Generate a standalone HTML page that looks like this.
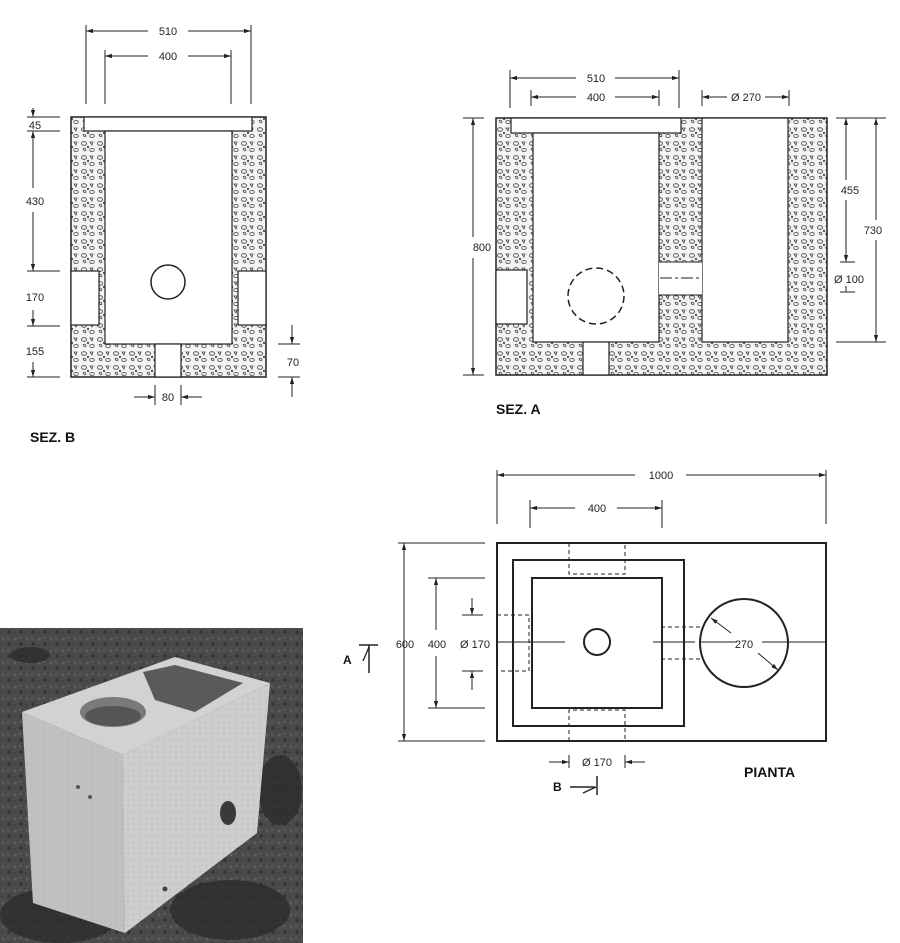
<!DOCTYPE html>
<html><head><meta charset="utf-8"><style>
html,body{margin:0;padding:0;background:#fff;}
svg{display:block;font-family:"Liberation Sans",sans-serif;}
</style></head><body>
<svg width="900" height="943" viewBox="0 0 900 943" xmlns="http://www.w3.org/2000/svg">
<defs>
<pattern id="agg" width="16" height="14" patternUnits="userSpaceOnUse">
<rect width="16" height="14" fill="#f4f4f4"/>
<g fill="none" stroke="#444" stroke-width="0.8">
<ellipse cx="4" cy="3.5" rx="2.6" ry="1.8"/>
<path d="M10 2 l3 0 l-1 3 z"/>
<ellipse cx="12" cy="10" rx="2.2" ry="1.6"/>
<path d="M3 9 q2 -2 3 1 q-1 2 -3 -1z"/>
<circle cx="8" cy="7" r="0.8"/>
</g>
</pattern>
<pattern id="grit" width="12" height="12" patternUnits="userSpaceOnUse">
<rect width="12" height="12" fill="#4a4a4a"/>
<circle cx="3" cy="3" r="1.5" fill="#5e5e5e"/><circle cx="9" cy="8" r="1.8" fill="#333"/><circle cx="8" cy="2" r="1" fill="#666"/><circle cx="2" cy="9" r="1" fill="#3a3a3a"/>
</pattern>
<pattern id="conc" width="6" height="6" patternUnits="userSpaceOnUse">
<rect width="6" height="6" fill="#cdcdcd"/><circle cx="2" cy="2" r="0.7" fill="#b8b8b8"/><circle cx="5" cy="4" r="0.6" fill="#dadada"/>
</pattern>
<marker id="ar" viewBox="0 0 10 10" refX="10" refY="5" markerWidth="7" markerHeight="7" orient="auto-start-reverse"><path d="M0 2 L10 5 L0 8 z" fill="#222"/></marker>
</defs>
<g stroke="#222" fill="none" stroke-width="1">
<!-- SEZ B -->
<rect x="71" y="117" width="195" height="260" fill="url(#agg)" stroke-width="1.5"/>
<rect x="84" y="117" width="168" height="14" fill="#fff" stroke-width="1.2"/>
<rect x="105" y="131" width="127" height="213" fill="#fff" stroke-width="1.2"/>
<rect x="71" y="271" width="28" height="54" fill="#fff" stroke-width="1.2"/>
<rect x="238" y="271" width="28" height="54" fill="#fff" stroke-width="1.2"/>
<rect x="155" y="344" width="26" height="33" fill="#fff" stroke-width="1.2"/>
<circle cx="168" cy="282" r="17" stroke-width="1.5"/>
<line x1="86" y1="25" x2="86" y2="104"/><line x1="251" y1="25" x2="251" y2="104"/>
<line x1="105" y1="50" x2="105" y2="104"/><line x1="231" y1="50" x2="231" y2="104"/>
<line x1="86" y1="31" x2="148" y2="31" marker-start="url(#ar)"/><line x1="188" y1="31" x2="251" y2="31" marker-end="url(#ar)"/>
<line x1="105" y1="56" x2="148" y2="56" marker-start="url(#ar)"/><line x1="188" y1="56" x2="231" y2="56" marker-end="url(#ar)"/>
<line x1="33" y1="108" x2="33" y2="117" marker-end="url(#ar)"/>
<line x1="33" y1="131" x2="33" y2="188" marker-start="url(#ar)"/><line x1="33" y1="212" x2="33" y2="271" marker-end="url(#ar)"/>
<line x1="33" y1="310" x2="33" y2="326" marker-end="url(#ar)"/>
<line x1="33" y1="362" x2="33" y2="377" marker-end="url(#ar)"/>
<line x1="27" y1="117" x2="60" y2="117"/><line x1="27" y1="131" x2="60" y2="131"/><line x1="27" y1="271" x2="60" y2="271"/><line x1="27" y1="326" x2="60" y2="326"/><line x1="27" y1="377" x2="60" y2="377"/>
<line x1="278" y1="344" x2="300" y2="344"/><line x1="278" y1="377" x2="300" y2="377"/>
<line x1="292" y1="325" x2="292" y2="344" marker-end="url(#ar)"/><line x1="292" y1="397" x2="292" y2="377" marker-end="url(#ar)"/>
<line x1="155" y1="385" x2="155" y2="405"/><line x1="181" y1="385" x2="181" y2="405"/>
<line x1="134" y1="397" x2="155" y2="397" marker-end="url(#ar)"/><line x1="202" y1="397" x2="181" y2="397" marker-end="url(#ar)"/>

<!-- SEZ A -->
<rect x="496" y="118" width="331" height="257" fill="url(#agg)" stroke-width="1.5"/>
<rect x="511" y="118" width="170" height="15" fill="#fff" stroke-width="1.2"/>
<rect x="533" y="133" width="126" height="209" fill="#fff" stroke-width="1.2"/>
<rect x="496" y="270" width="31" height="54" fill="#fff" stroke-width="1.2"/>
<rect x="583" y="342" width="26" height="33" fill="#fff" stroke-width="1.2"/>
<rect x="702" y="118" width="86" height="224" fill="#fff" stroke-width="1.2"/>
<rect x="659" y="262" width="43" height="33" fill="#fff" stroke="none"/>
<line x1="659" y1="262" x2="702" y2="262"/><line x1="659" y1="295" x2="702" y2="295"/>
<line x1="660" y1="278" x2="701" y2="278" stroke-dasharray="12 3 3 3"/>
<circle cx="596" cy="296" r="28" stroke-width="1.5" stroke-dasharray="7 4"/>
<line x1="510" y1="70" x2="510" y2="108"/><line x1="679" y1="70" x2="679" y2="108"/>
<line x1="531" y1="90" x2="531" y2="106"/><line x1="659" y1="90" x2="659" y2="106"/>
<line x1="702" y1="90" x2="702" y2="106"/><line x1="789" y1="90" x2="789" y2="106"/>
<line x1="510" y1="78" x2="576" y2="78" marker-start="url(#ar)"/><line x1="615" y1="78" x2="679" y2="78" marker-end="url(#ar)"/>
<line x1="531" y1="97" x2="576" y2="97" marker-start="url(#ar)"/><line x1="615" y1="97" x2="659" y2="97" marker-end="url(#ar)"/>
<line x1="702" y1="97" x2="727" y2="97" marker-start="url(#ar)"/><line x1="765" y1="97" x2="789" y2="97" marker-end="url(#ar)"/>
<line x1="463" y1="118" x2="484" y2="118"/><line x1="463" y1="375" x2="484" y2="375"/>
<line x1="473" y1="118" x2="473" y2="237" marker-start="url(#ar)"/><line x1="473" y1="258" x2="473" y2="375" marker-end="url(#ar)"/>
<line x1="836" y1="118" x2="886" y2="118"/><line x1="836" y1="342" x2="886" y2="342"/>
<line x1="846" y1="118" x2="846" y2="180" marker-start="url(#ar)"/><line x1="846" y1="200" x2="846" y2="262" marker-end="url(#ar)"/>
<line x1="840" y1="262" x2="855" y2="262"/><line x1="840" y1="292" x2="855" y2="292"/>
<line x1="846" y1="286" x2="846" y2="292"/>
<line x1="876" y1="118" x2="876" y2="220" marker-start="url(#ar)"/><line x1="876" y1="240" x2="876" y2="342" marker-end="url(#ar)"/>

<!-- PIANTA -->
<rect x="497" y="543" width="329" height="198" stroke-width="2"/>
<rect x="513" y="560" width="171" height="166" stroke-width="2"/>
<rect x="532" y="578" width="130" height="130" stroke-width="2"/>
<circle cx="597" cy="642" r="13" stroke-width="2"/>
<circle cx="744" cy="643" r="44" stroke-width="2"/>
<g stroke-dasharray="4 3">
<path d="M569 543 V574 H625 V543"/>
<path d="M569 741 V710 H625 V741"/>
<path d="M497 615 H529 V671 H497"/>
<path d="M661 627 H703 M661 659 H703"/>
</g>
<line x1="497" y1="642" x2="565" y2="642"/><line x1="653" y1="642" x2="695" y2="642"/>
<line x1="700" y1="642" x2="737" y2="642"/><line x1="762" y1="642" x2="826" y2="642"/>
<line x1="711" y1="618" x2="731" y2="633" marker-start="url(#ar)"/><line x1="758" y1="653" x2="778" y2="670" marker-end="url(#ar)"/>
<line x1="497" y1="470" x2="497" y2="524"/><line x1="826" y1="470" x2="826" y2="524"/>
<line x1="530" y1="500" x2="530" y2="528"/><line x1="662" y1="500" x2="662" y2="528"/>
<line x1="497" y1="475" x2="635" y2="475" marker-start="url(#ar)"/><line x1="686" y1="475" x2="826" y2="475" marker-end="url(#ar)"/>
<line x1="530" y1="508" x2="575" y2="508" marker-start="url(#ar)"/><line x1="617" y1="508" x2="662" y2="508" marker-end="url(#ar)"/>
<line x1="398" y1="543" x2="485" y2="543"/><line x1="398" y1="741" x2="485" y2="741"/>
<line x1="404" y1="543" x2="404" y2="741" marker-start="url(#ar)" marker-end="url(#ar)"/>
<line x1="428" y1="578" x2="485" y2="578"/><line x1="428" y1="708" x2="485" y2="708"/>
<line x1="436" y1="578" x2="436" y2="630" marker-start="url(#ar)"/><line x1="436" y1="656" x2="436" y2="708" marker-end="url(#ar)"/>
<line x1="462" y1="615" x2="483" y2="615"/><line x1="462" y1="671" x2="483" y2="671"/>
<line x1="472" y1="598" x2="472" y2="615" marker-end="url(#ar)"/><line x1="472" y1="690" x2="472" y2="671" marker-end="url(#ar)"/>
<line x1="569" y1="755" x2="569" y2="768"/><line x1="625" y1="755" x2="625" y2="768"/>
<line x1="549" y1="762" x2="569" y2="762" marker-end="url(#ar)"/><line x1="645" y1="762" x2="625" y2="762" marker-end="url(#ar)"/>
<line x1="359" y1="645" x2="378" y2="645" stroke-width="1.5"/><line x1="369" y1="645" x2="369" y2="673" stroke-width="1.5"/><line x1="369" y1="647" x2="363" y2="661" stroke-width="1.3"/>
<line x1="570" y1="787" x2="595" y2="787" stroke-width="1.5"/><line x1="597" y1="776" x2="597" y2="795" stroke-width="1.5"/><line x1="583" y1="793" x2="596" y2="787" stroke-width="1.3"/>
</g>
<g fill="#222" font-size="11" text-anchor="middle">
<text x="168" y="35">510</text><text x="168" y="60">400</text>
<text x="35" y="129">45</text><text x="35" y="205">430</text><text x="35" y="301">170</text><text x="35" y="355">155</text>
<text x="293" y="366">70</text><text x="168" y="401">80</text>
<text x="596" y="82">510</text><text x="596" y="101">400</text><text x="746" y="101">Ø 270</text>
<text x="482" y="251">800</text><text x="850" y="194">455</text><text x="873" y="234">730</text><text x="849" y="283">Ø 100</text>
<text x="661" y="479">1000</text><text x="597" y="512">400</text>
<text x="405" y="648">600</text><text x="437" y="648">400</text><text x="475" y="648">Ø 170</text>
<text x="744" y="648">270</text><text x="597" y="766">Ø 170</text>
</g>
<g fill="#111" font-size="14" font-weight="bold">
<text x="30" y="442">SEZ. B</text><text x="496" y="414">SEZ. A</text><text x="744" y="777">PIANTA</text>
<text x="343" y="664" font-size="12">A</text><text x="553" y="791" font-size="12">B</text>
</g>
<!-- photo -->
<rect x="0" y="628" width="303" height="315" fill="url(#grit)"/>
<g fill="#2c2c2c" opacity="0.8"><ellipse cx="280" cy="790" rx="22" ry="35"/><ellipse cx="60" cy="915" rx="60" ry="28"/><ellipse cx="230" cy="910" rx="60" ry="30"/><ellipse cx="30" cy="655" rx="20" ry="8"/></g>
<polygon points="22,712 175,657 270,683 123,755" fill="#d2d2d2"/>
<polygon points="22,712 123,755 125,933 33,903" fill="url(#conc)"/>
<polygon points="22,712 123,755 125,933 33,903" fill="#9a9a9a" opacity="0.25"/>
<polygon points="123,755 270,683 257,833 125,933" fill="url(#conc)"/>
<ellipse cx="113" cy="712" rx="33" ry="15" fill="#7a7a7a"/>
<ellipse cx="113" cy="716" rx="28" ry="10" fill="#555"/>
<polygon points="143,672 175,665 243,683 195,712 155,700" fill="#5a5a5a"/>
<ellipse cx="228" cy="813" rx="8" ry="12" fill="#3a3a3a"/>
<circle cx="165" cy="889" r="2.5" fill="#444"/>
<circle cx="78" cy="787" r="2" fill="#555"/><circle cx="90" cy="797" r="2" fill="#555"/>
</svg>
</body></html>
